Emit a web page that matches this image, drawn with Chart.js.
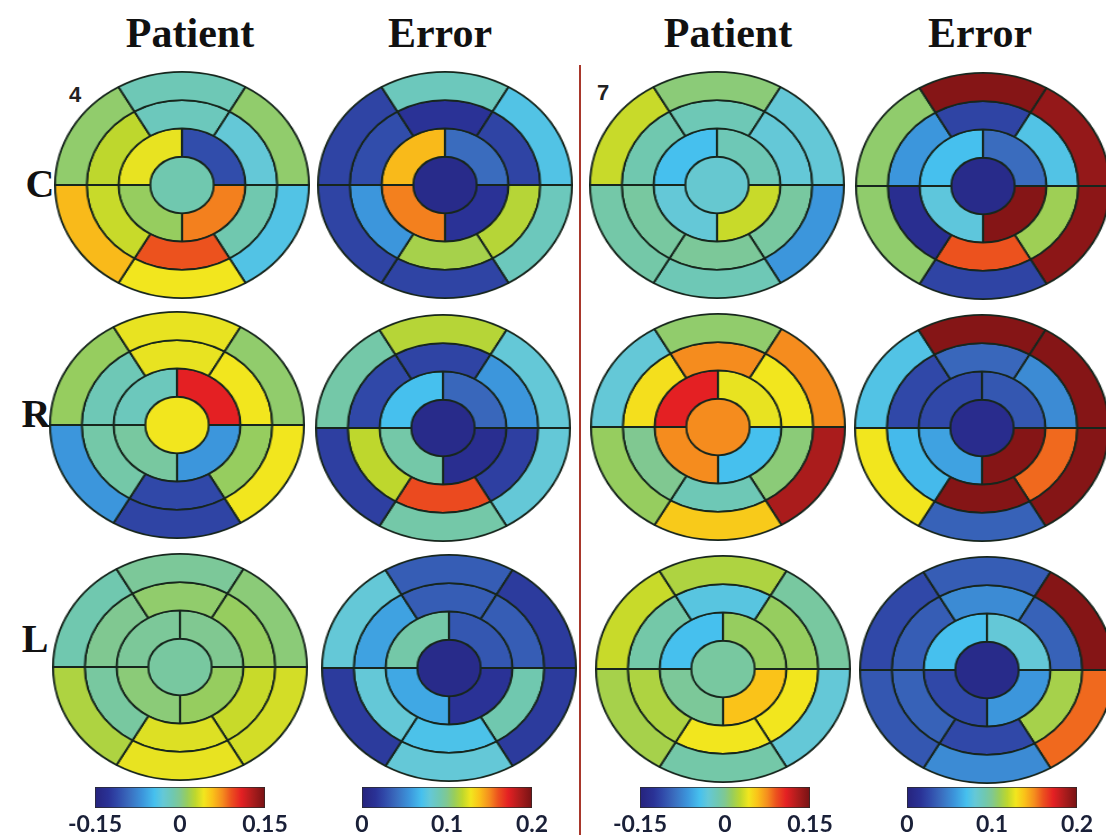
<!DOCTYPE html>
<html>
<head>
<meta charset="utf-8">
<script src="https://cdn.jsdelivr.net/npm/chart.js"></script>
<style>
body { margin:0; background:#fff; width:1106px; height:835px; overflow:hidden; position:relative; font-family:"Liberation Serif", serif; }
.titulo { position:absolute; font-weight:bold; font-size:42px; line-height:42px; transform:translateX(-50%); color:#111; white-space:nowrap; }
.fila { position:absolute; font-weight:bold; font-size:40px; line-height:40px; transform:translateX(-50%); color:#111; }
.caso { position:absolute; font-family:"Liberation Sans", sans-serif; font-weight:bold; font-size:22px; line-height:22px; color:#222; }
canvas { position:absolute; }
#separador { position:absolute; left:579px; top:65px; width:2px; height:770px; background:#a8372b; }
</style>
</head>
<body>
<div id="separador"></div>
<script>
/* ============================================================
   BULLSEYE 17 segmentos — Patient / Error (casos 4 y 7)
============================================================ */

const COLUMNAS = ["Patient", "Error", "Patient", "Error"];
const FILAS = ["C", "R", "L"];
const CASOS = ["4", "7"];
const TICKS_PATIENT = [-0.15, 0, 0.15];
const TICKS_ERROR = [0, 0.1, 0.2];

// orden: centro, interior (LR, LL, UL, UR), medio (LR, B, LL, UL, T, UR), exterior (LR, B, LL, UL, T, UR)
const p4_C = [-0.012, 0.078, 0.012, 0.039, -0.108, -0.012, 0.09, 0.03, 0.027, -0.018, -0.03, -0.039, 0.042, 0.06, 0.009, -0.015, 0.009];
const e4_C = [0.008, 0.016, 0.152, 0.14, 0.04, 0.116, 0.112, 0.056, 0.028, 0.016, 0.024, 0.088, 0.024, 0.024, 0.024, 0.088, 0.074];
const p7_C = [-0.027, 0.03, -0.03, -0.045, -0.015, -0.006, -0.003, -0.006, -0.012, -0.015, -0.03, -0.066, -0.015, -0.009, 0.03, 0.006, -0.03];
const e7_C = [0.008, 0.196, 0.078, 0.07, 0.04, 0.11, 0.16, 0.012, 0.056, 0.024, 0.074, 0.194, 0.024, 0.106, 0.106, 0.196, 0.192];

const p4_R = [0.042, -0.066, -0.006, -0.018, 0.108, 0.012, -0.111, -0.009, -0.015, 0.039, 0.042, 0.042, -0.114, -0.066, 0.012, 0.039, 0.009];
const e4_R = [0.008, 0.012, 0.094, 0.07, 0.038, 0.022, 0.162, 0.118, 0.026, 0.024, 0.056, 0.08, 0.094, 0.022, 0.094, 0.116, 0.08];
const p7_R = [0.075, -0.045, 0.075, 0.108, 0.039, 0.006, -0.015, 0, 0.045, 0.075, 0.042, 0.129, 0.054, 0.012, -0.03, 0.009, 0.075];
const e7_R = [0.01, 0.196, 0.06, 0.026, 0.032, 0.156, 0.196, 0.068, 0.026, 0.038, 0.052, 0.196, 0.036, 0.128, 0.074, 0.196, 0.196];

const p4_L = [-0.006, 0.012, 0.006, -0.003, 0, 0.03, 0.036, -0.006, 0, 0.009, 0.012, 0.033, 0.039, 0.021, -0.012, -0.003, 0.006];
const e4_L = [0.008, 0.016, 0.062, 0.094, 0.032, 0.092, 0.072, 0.08, 0.06, 0.034, 0.034, 0.02, 0.08, 0.02, 0.08, 0.034, 0.02];
const p7_L = [-0.006, 0.057, -0.003, -0.045, 0.012, 0.042, 0.042, 0.021, -0.009, -0.036, 0.012, -0.03, -0.009, 0.018, 0.03, 0.021, -0.006];
const e7_L = [0.008, 0.056, 0.026, 0.07, 0.08, 0.112, 0.026, 0.036, 0.034, 0.052, 0.036, 0.156, 0.052, 0.032, 0.026, 0.034, 0.196];

const PANELES = [
    [p4_C, e4_C, p7_C, e7_C],
    [p4_R, e4_R, p7_R, e7_R],
    [p4_L, e4_L, p7_L, e7_L]
];

/* Layout (px) */
const CENTROS = [
    [[182, 185], [445, 185], [717, 185], [983, 186]],
    [[177, 425], [443, 428], [718, 427], [982, 428]],
    [[180, 667], [449, 668], [723, 669], [987, 670]]
];
const TITULO_X = [190, 440, 728, 980];
const FILA_POS = [[40, 164], [36, 394], [35, 619]];
const CASO_POS = [[69, 84], [597, 82]];
const BARRA_X = [95, 362, 640, 907];
const BARRA_ANCHO = 170;
const BARRA_PAD = 36;

/* Paleta tipo jet (lavada) */
const PALETA = [
    [0.00, [38, 35, 125]],
    [0.08, [42, 50, 150]],
    [0.13, [48, 72, 168]],
    [0.20, [58, 108, 190]],
    [0.28, [60, 150, 220]],
    [0.35, [70, 192, 238]],
    [0.40, [100, 200, 215]],
    [0.46, [112, 200, 175]],
    [0.50, [128, 200, 145]],
    [0.54, [150, 205, 95]],
    [0.59, [190, 215, 45]],
    [0.64, [242, 230, 30]],
    [0.69, [250, 195, 25]],
    [0.75, [245, 140, 30]],
    [0.80, [236, 82, 30]],
    [0.86, [228, 32, 35]],
    [0.93, [170, 28, 28]],
    [1.00, [118, 18, 20]]
];

function colorDe(v, min, max) {
    const t = Math.min(1, Math.max(0, (v - min) / (max - min)));
    for (let i = 1; i < PALETA.length; i++) {
        const [t1, c1] = PALETA[i];
        const [t0, c0] = PALETA[i - 1];
        if (t <= t1) {
            const k = (t - t0) / (t1 - t0);
            const c = c0.map((x, j) => Math.round(x + (c1[j] - x) * k));
            return `rgb(${c[0]},${c[1]},${c[2]})`;
        }
    }
    return "rgb(118,18,20)";
}

function gradiente(chart) {
    const a = chart.chartArea;
    if (!a) return "#888";
    const g = chart.ctx.createLinearGradient(a.left, 0, a.right, 0);
    PALETA.forEach(([t, c]) => g.addColorStop(t, `rgb(${c[0]},${c[1]},${c[2]})`));
    return g;
}

/* Bullseye (elipse = canvas cuadrado estirado) */
function dibujarBullseye(valores, min, max, cx, cy) {
    const cv = document.createElement("canvas");
    cv.width = 228;
    cv.height = 228;
    cv.style.width = "256px";
    cv.style.height = "228px";
    cv.style.left = (cx - 128) + "px";
    cv.style.top = (cy - 114) + "px";
    document.body.appendChild(cv);

    const anillo = (vals, bw) => ({
        data: vals.map(() => 1),
        backgroundColor: vals.map(v => colorDe(v, min, max)),
        borderColor: "#17261d",
        borderWidth: bw,
        hoverOffset: 0
    });

    new Chart(cv, {
        type: "doughnut",
        data: {
            datasets: [
                anillo(valores.slice(11, 17), 1.8),
                anillo(valores.slice(5, 11), 1.8),
                anillo(valores.slice(1, 5), 1.8),
                anillo(valores.slice(0, 1), 0)
            ]
        },
        options: {
            responsive: false,
            animation: false,
            events: [],
            cutout: 0,
            rotation: 90,
            plugins: { legend: { display: false }, tooltip: { enabled: false } }
        }
    });
}

/* Barra de color */
function dibujarBarra(min, max, ticks, left) {
    const cv = document.createElement("canvas");
    cv.width = BARRA_ANCHO + 2 * BARRA_PAD;
    cv.height = 49;
    cv.style.left = (left - BARRA_PAD) + "px";
    cv.style.top = "786px";
    document.body.appendChild(cv);

    new Chart(cv, {
        type: "bar",
        data: {
            labels: [""],
            datasets: [{
                data: [[min, max]],
                backgroundColor: ctx => gradiente(ctx.chart),
                borderColor: "#2a2a2a",
                borderWidth: 1,
                borderSkipped: false,
                barPercentage: 1,
                categoryPercentage: 1
            }]
        },
        options: {
            indexAxis: "y",
            responsive: false,
            animation: false,
            events: [],
            layout: { padding: { left: BARRA_PAD, right: BARRA_PAD, top: 1, bottom: 0 } },
            plugins: { legend: { display: false }, tooltip: { enabled: false } },
            scales: {
                x: {
                    type: "linear",
                    min, max,
                    afterBuildTicks: s => { s.ticks = ticks.map(v => ({ value: v })); },
                    afterFit: s => { s.height = 27; },
                    grid: { display: false, drawTicks: false },
                    border: { display: false },
                    ticks: {
                        color: "#1a2038",
                        font: { family: "Lato", weight: "bold", size: 23, lineHeight: 1 },
                        padding: 5,
                        maxRotation: 0,
                        callback: v => String(v)
                    }
                },
                y: { display: false }
            }
        }
    });
}

/* Textos */
function texto(clase, str, x, y) {
    const d = document.createElement("div");
    d.className = clase;
    d.textContent = str;
    d.style.left = x + "px";
    d.style.top = y + "px";
    document.body.appendChild(d);
}

COLUMNAS.forEach((c, i) => texto("titulo", c, TITULO_X[i], 12));
FILAS.forEach((f, i) => texto("fila", f, FILA_POS[i][0], FILA_POS[i][1]));
CASOS.forEach((c, i) => texto("caso", c, CASO_POS[i][0], CASO_POS[i][1]));

for (let r = 0; r < FILAS.length; r++) {
    for (let c = 0; c < COLUMNAS.length; c++) {
        const esError = COLUMNAS[c] === "Error";
        const min = esError ? 0 : -0.15;
        const max = esError ? 0.2 : 0.15;
        dibujarBullseye(PANELES[r][c], min, max, CENTROS[r][c][0], CENTROS[r][c][1]);
    }
}

COLUMNAS.forEach((c, i) => {
    const ticks = c === "Error" ? TICKS_ERROR : TICKS_PATIENT;
    dibujarBarra(ticks[0], ticks[ticks.length - 1], ticks, BARRA_X[i]);
});
</script>
</body>
</html>
